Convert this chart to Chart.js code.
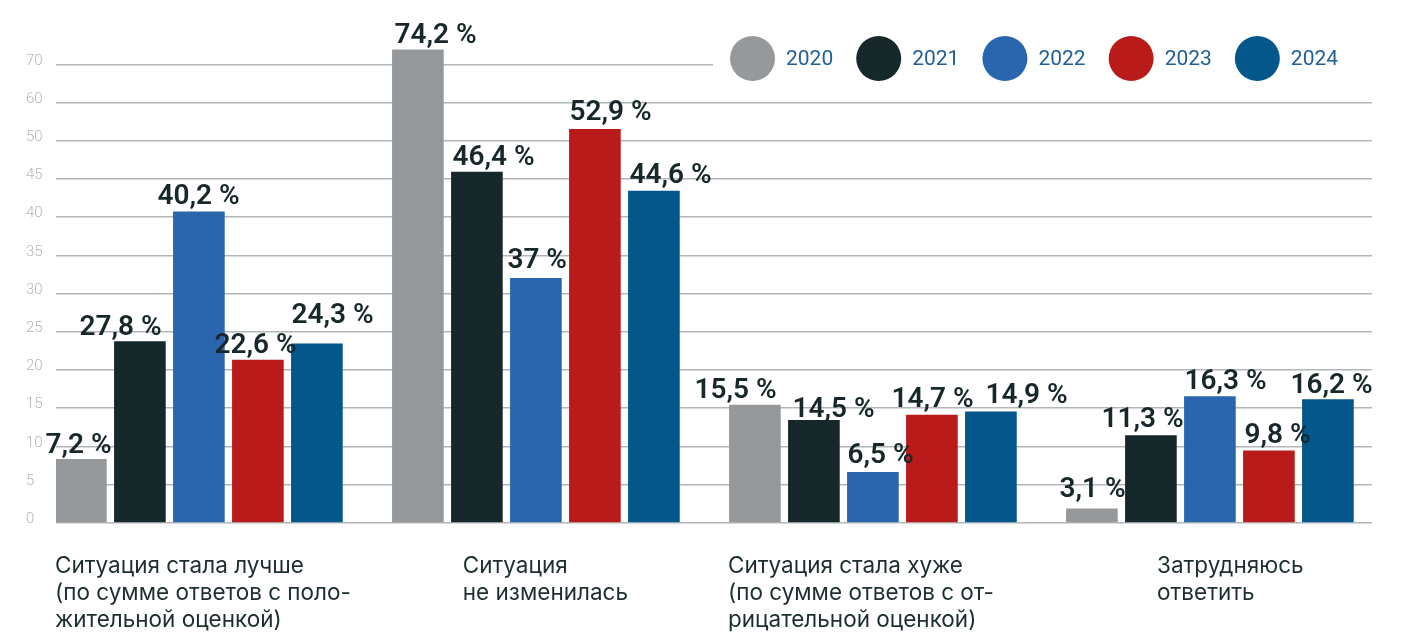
<!DOCTYPE html>
<html lang="ru">
<head>
<meta charset="utf-8">
<title>Оценка ситуации 2020–2024</title>
<script src="https://cdn.jsdelivr.net/npm/chart.js@4/dist/chart.umd.min.js"></script>
<style>
  html, body { margin: 0; padding: 0; background: #fff; }
  .graph { width: 1408px; height: 632px; position: relative; }
</style>
</head>
<body>
<div class="graph"><canvas id="chart"></canvas></div>
<script>
// x axis categories (line breaks as in the original)
const categories = [
  ["Ситуация стала лучше", "(по сумме ответов с поло-", "жительной оценкой)"],
  ["Ситуация", "не изменилась"],
  ["Ситуация стала хуже", "(по сумме ответов с от-", "рицательной оценкой)"],
  ["Затрудняюсь", "ответить"],
];

const years = ["2020", "2021", "2022", "2023", "2024"];
const colors = ["#96999c", "#17282b", "#2966ae", "#b91b1b", "#03578a"];

// bar heights as drawn, read against the labelled axis
const bars2020 = [8.3, 73.8, 15.4, 1.8];
const bars2021 = [23.7, 45.9, 13.4, 11.4];
const bars2022 = [40.7, 32.0, 6.6, 16.5];
const bars2023 = [21.3, 53.0, 14.1, 9.4];
const bars2024 = [23.4, 43.4, 14.5, 16.1];

// percentages printed above the bars
const pct2020 = [7.2, 74.2, 15.5, 3.1];
const pct2021 = [27.8, 46.4, 14.5, 11.3];
const pct2022 = [40.2, 37, 6.5, 16.3];
const pct2023 = [22.6, 52.9, 14.7, 9.8];
const pct2024 = [24.3, 44.6, 14.9, 16.2];

// y tick labels (the axis steps by 5 up to 50, then by 10)
const yTickLabels = [0, 5, 10, 15, 20, 25, 30, 35, 40, 45, 50, 60, 70];

const allBars = [bars2020, bars2021, bars2022, bars2023, bars2024];
const allPct = [pct2020, pct2021, pct2022, pct2023, pct2024];

// label placement tweaks [dx, dy] in px, as the labels were set by hand
const labelNudge = [
  [[-10, 2], [2, 1], [-35, 1], [-7, -4]],
  [[-35, 1], [1, 1], [4, 5], [-24, -1]],
  [[-16, 0], [-3, -2], [0, -1], [0, 0]],
  [[-18, 1], [0, -1], [-15, 0], [1, 0]],
  [[0, -13], [1, 0], [20, -1], [-12, 1]],
];
// where each category caption starts, in x-axis units
const captionAt = [-0.427, 0.783, 1.570, 2.843];

// above 50 the axis is squeezed to half
const toAxis = v => (v <= 50 ? v : 50 + (v - 50) / 2);
const fmt = v => String(v).replace(".", ",") + " %";

const valueLabels = {
  id: "valueLabels",
  afterDatasetsDraw(chart) {
    const ctx = chart.ctx;
    ctx.save();
    ctx.font = "600 28px Roboto";
    ctx.fillStyle = "#17282b";
    ctx.textAlign = "left";
    ctx.textBaseline = "alphabetic";
    chart.data.datasets.forEach((ds, di) => {
      chart.getDatasetMeta(di).data.forEach((bar, i) => {
        const [dx, dy] = labelNudge[di][i];
        ctx.fillText(fmt(allPct[di][i]), bar.x - bar.width / 2 + dx, bar.y - 8 + dy);
      });
    });
    ctx.restore();
  },
};

const dotLegend = {
  id: "dotLegend",
  beforeDatasetsDraw(chart) {
    const ctx = chart.ctx;
    ctx.save();
    // the legend sits on a white box over the top gridline
    ctx.fillStyle = "#fff";
    ctx.fillRect(713, 30, chart.chartArea.right - 711, 60);
    ctx.font = "400 21px Roboto";
    ctx.textBaseline = "middle";
    ctx.textAlign = "left";
    let x = 730;
    const cy = 58.5;
    chart.data.datasets.forEach((ds) => {
      ctx.fillStyle = ds.backgroundColor;
      ctx.beginPath();
      ctx.arc(x + 22.5, cy, 22.5, 0, Math.PI * 2);
      ctx.fill();
      ctx.fillStyle = "#1f6096";
      ctx.fillText(ds.label, x + 56, cy + 1);
      x += 56 + ctx.measureText(ds.label).width + 23;
    });
    ctx.restore();
  },
};

const config = {
  type: "bar",
  data: {
    labels: categories.map((c, i) => i),
    datasets: years.map((y, i) => ({
      label: y,
      backgroundColor: colors[i],
      data: allBars[i].map(toAxis),
      barThickness: 59,
      maxBarThickness: 51,
    })),
  },
  options: {
    responsive: true,
    maintainAspectRatio: false,
    animation: false,
    layout: { padding: { top: 26.1, left: 26, right: 36, bottom: 0 } },
    plugins: {
      legend: { display: false },
      tooltip: { enabled: false },
    },
    scales: {
      x: {
        type: "linear",
        offset: false,
        min: -0.424,
        max: 3.481,
        grid: { display: false, drawTicks: false, offset: false },
        border: { display: false },
        afterBuildTicks: (s) => {
          s.ticks = captionAt.map((v) => ({ value: v }));
        },
        afterFit: (s) => {
          s.height = 109.3;
        },
        ticks: {
          autoSkip: false,
          maxRotation: 0,
          minRotation: 0,
          align: "start",
          padding: 30,
          color: "#1d2e31",
          font: { family: "Inter", size: 22.5, lineHeight: "27px" },
          callback: (v, i) => categories[i],
        },
      },
      y: {
        min: 0,
        max: 65,
        grid: { color: "#b3b6b9", lineWidth: 1.5, drawTicks: false },
        border: { display: false },
        afterBuildTicks: (s) => {
          s.ticks = yTickLabels.map((v) => ({ value: toAxis(v) }));
        },
        afterFit: (s) => {
          s.width = 30;
        },
        ticks: {
          crossAlign: "far",
          labelOffset: -3.5,
          color: "#b4b7ba",
          font: { family: "Roboto", size: 15, weight: 300 },
          callback: (v, i) => String(yTickLabels[i]),
        },
      },
    },
  },
  plugins: [dotLegend, valueLabels],
};

new Chart(document.getElementById("chart"), config);
</script>
</body>
</html>
